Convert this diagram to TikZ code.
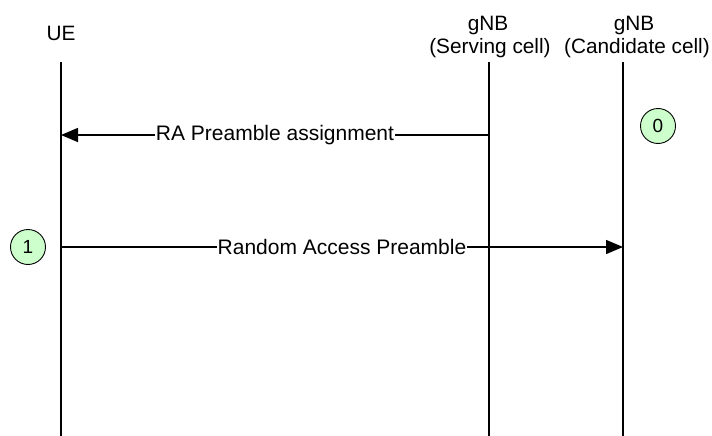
\documentclass[tikz,border=0pt]{standalone}
\usepackage{fontspec}
\setmainfont{Liberation Sans}
\usetikzlibrary{arrows.meta}
\definecolor{stepgreen}{HTML}{CCFFCC}
\begin{document}
\begin{tikzpicture}[x=1pt,y=-1pt,
  hdr/.style={font=\fontsize{20.8}{23}\selectfont, inner sep=0pt, anchor=base},
  life/.style={line width=1.5pt},
  msg/.style={line width=1.5pt,-{Triangle[length=17pt,width=14pt]}},
  msglbl/.style={font=\fontsize{21}{24}\selectfont, fill=white, inner sep=1pt},
  stepcirc/.style={circle, draw, line width=0.9pt, fill=stepgreen, minimum size=35pt, inner sep=0pt, font=\fontsize{19}{21}\selectfont}
]
\useasboundingbox (0,0) rectangle (712,436);
% headers
\node[hdr] (ue) at (61,41) {UE};
\node[hdr] (sgnb) at (488,31) {gNB};
\node[hdr] (scell) at (490,54) {(Serving cell)};
\node[hdr] (cgnb) at (634,31) {gNB};
\node[hdr] (ccell) at (637,54) {(Candidate cell)};
% lifelines
\coordinate (uet) at (61,62);
\coordinate (ueb) at (61,436);
\coordinate (st) at (489,62);
\coordinate (sb) at (489,436);
\coordinate (ct) at (623,62);
\coordinate (cb) at (623,436);
\draw[life] (uet) -- (ueb);
\draw[life] (st) -- (sb);
\draw[life] (ct) -- (cb);
% messages
\coordinate (m1s) at (489,135);
\coordinate (m1e) at (61,135);
\draw[msg] (m1s) -- node[msglbl] (m1l) {RA Preamble assignment} (m1e);
\coordinate (m2s) at (61,247);
\coordinate (m2e) at (623,247);
\draw[msg] (m2s) -- node[msglbl] (m2l) {Random Access Preamble} (m2e);
% step markers
\node[stepcirc] (s0) at (658,126) {0};
\node[stepcirc] (s1) at (28,247) {1};
\end{tikzpicture}
\end{document}
